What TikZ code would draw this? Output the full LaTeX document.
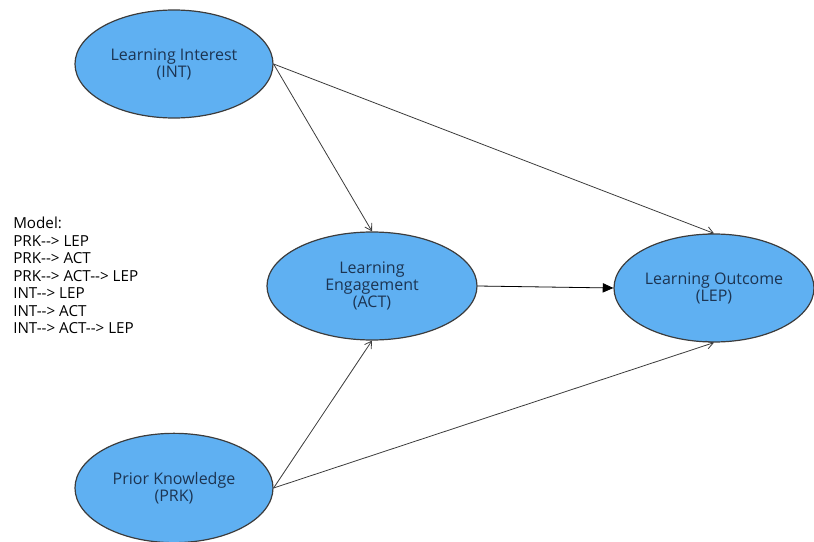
\documentclass[tikz,border=0pt]{standalone}
\usepackage{fontspec}
\setmainfont{Open Sans}
\usetikzlibrary{shapes.geometric,arrows.meta}
\definecolor{fillblue}{RGB}{95,176,242}
\definecolor{txtblue}{RGB}{28,52,82}
\definecolor{edgegray}{RGB}{60,60,60}
\newcommand{\arw}{-\kern0pt-\kern0pt>}
\begin{document}
\begin{tikzpicture}[x=0.75pt,y=-0.75pt,
  latent/.style={ellipse,draw=edgegray,line width=0.9pt,fill=fillblue,inner sep=0pt,
    minimum height=81pt,text=txtblue,align=center,font=\fontsize{12pt}{12.9pt}\selectfont},
  conn/.style={draw=edgegray,line width=0.6pt,-{Straight Barb[length=5pt,width=6pt]}},
  mainconn/.style={draw=black,line width=0.6pt,-{Triangle[length=8pt,width=7pt]}}]
\useasboundingbox (0,0) rectangle (814,542);
\node[latent,minimum width=148.5pt] (INT) at (174,64) {Learning Interest\\(INT)};
\node[latent,minimum width=157.5pt] (ACT) at (372,286) {Learning\\Engagement\\(ACT)};
\node[latent,minimum width=150pt] (LEP) at (714,288) {Learning Outcome\\(LEP)};
\node[latent,minimum width=148.5pt,minimum height=82pt] (PRK) at (174,488) {Prior Knowledge\\(PRK)};
\node[anchor=north west,align=left,inner sep=0pt,text=black,
  font=\fontsize{11.4pt}{13.1pt}\selectfont] (model) at (13,217)
  {Model:\\PRK\arw{} LEP\\PRK\arw{} ACT\\PRK\arw{} ACT\arw{} LEP\\INT\arw{} LEP\\INT\arw{} ACT\\INT\arw{} ACT\arw{} LEP};
\draw[conn] (INT.east) -- (ACT.north);
\draw[conn] (INT.east) -- (LEP.north);
\draw[mainconn] (ACT.east) -- (LEP.west);
\draw[conn] (PRK.east) -- (ACT.south);
\draw[conn] (PRK.east) -- (LEP.south);
\end{tikzpicture}
\end{document}
